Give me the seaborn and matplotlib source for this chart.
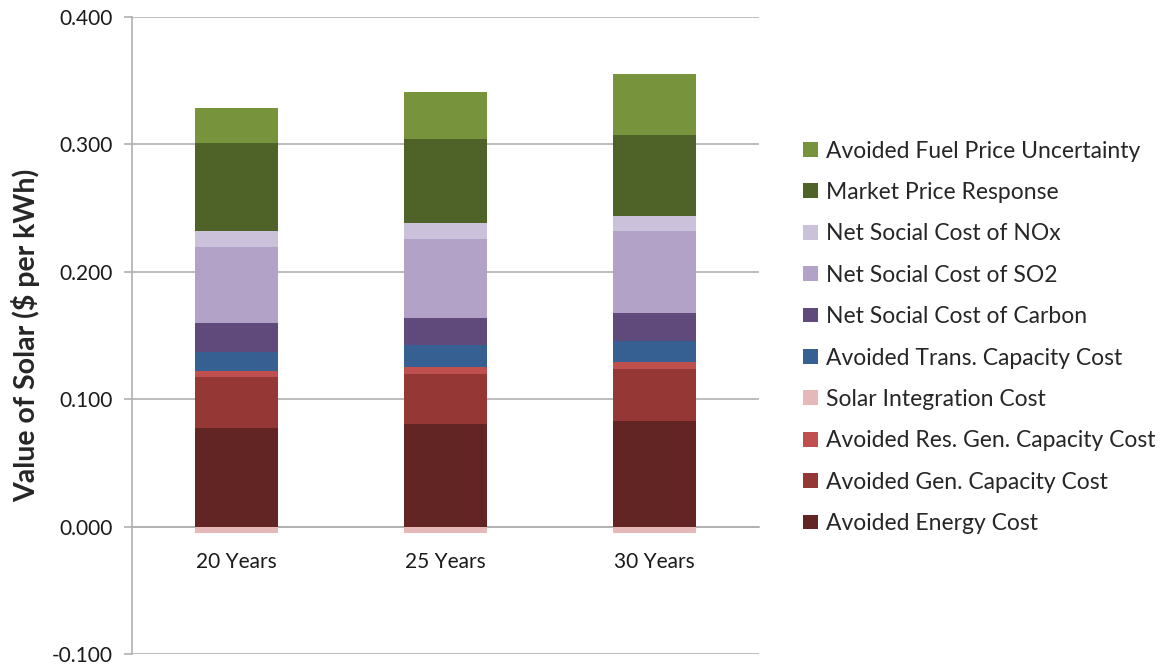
import matplotlib

matplotlib.use("Agg")
import matplotlib.pyplot as plt
import numpy as np
import pandas as pd
import seaborn as sns
from matplotlib.patches import Patch

sns.set_theme(style="white", context="notebook")
plt.rcParams["font.family"] = ["Lato", "DejaVu Sans"]

categories = ["20 Years", "25 Years", "30 Years"]

# series in stacking order (bottom to top); integration cost is negative
series_names = [
    "Avoided Energy Cost",
    "Avoided Gen. Capacity Cost",
    "Avoided Res. Gen. Capacity Cost",
    "Solar Integration Cost",
    "Avoided Trans. Capacity Cost",
    "Net Social Cost of Carbon",
    "Net Social Cost of SO2",
    "Net Social Cost of NOx",
    "Market Price Response",
    "Avoided Fuel Price Uncertainty",
]
energy = [0.0775, 0.0806, 0.0832]
gen_capacity = [0.0400, 0.0395, 0.0408]
res_gen_capacity = [0.0045, 0.0055, 0.0055]
integration = [-0.0047, -0.0050, -0.0050]
trans_capacity = [0.0154, 0.0170, 0.0165]
carbon = [0.0223, 0.0215, 0.0215]
so2 = [0.0596, 0.0615, 0.0644]
nox = [0.0126, 0.0130, 0.0122]
market_response = [0.0690, 0.0657, 0.0636]
fuel_uncertainty = [0.0280, 0.0367, 0.0474]

colors = [
    "#632523", "#953735", "#C0504D", "#E6B9B8", "#376092",
    "#604A7B", "#B3A2C7", "#CCC1DA", "#4F6228", "#77933C",
]

data = pd.DataFrame(
    [energy, gen_capacity, res_gen_capacity, integration, trans_capacity,
     carbon, so2, nox, market_response, fuel_uncertainty],
    index=series_names, columns=categories,
)

fig = plt.figure(figsize=(11.66, 6.66), dpi=100)
ax = fig.add_axes([0.1132, 0.018, 0.5378, 0.9565])

x = np.arange(len(categories))
pos_bottom = np.zeros(len(categories))
neg_bottom = np.zeros(len(categories))
for name, color in zip(series_names, colors):
    values = data.loc[name].to_numpy()
    bottom = np.where(values >= 0, pos_bottom, neg_bottom)
    ax.bar(x, values, width=0.4, bottom=bottom, color=color, edgecolor="none", zorder=3)
    pos_bottom = pos_bottom + np.clip(values, 0, None)
    neg_bottom = neg_bottom + np.clip(values, None, 0)

ax.set_xlim(-0.5, len(categories) - 0.5)
ax.set_ylim(-0.1, 0.4)
yticks = np.arange(-0.1, 0.401, 0.1)
ax.set_yticks(yticks)
ax.set_yticklabels([f"{v:.3f}" for v in yticks], fontsize=15)
ax.yaxis.grid(True, color="#B0B0B0", linewidth=1.2, zorder=0)

# category axis crosses at zero, tick marks between categories
ax.spines["bottom"].set_position(("data", 0))
ax.spines["bottom"].set_color("#B0B0B0")
ax.spines["bottom"].set_linewidth(1.2)
ax.spines["left"].set_color("#B0B0B0")
ax.spines["left"].set_linewidth(1.2)
ax.spines["top"].set_visible(False)
ax.spines["right"].set_visible(False)
ax.set_xticks(x)
ax.set_xticklabels(categories, fontsize=15)
ax.set_xticks(np.arange(0.5, len(categories), 1.0), minor=True)
ax.tick_params(axis="x", which="major", length=0, pad=18)
ax.tick_params(axis="x", which="minor", length=5, color="#B0B0B0", width=1.2, direction="out")
ax.tick_params(axis="y", length=6, color="#B0B0B0", width=1.2, direction="out", left=True, pad=8)
for label in ax.get_xticklabels() + ax.get_yticklabels():
    label.set_color("#1a1a1a")

ax.set_ylabel("Value of Solar ($ per kWh)", fontsize=20.5, fontweight="bold", labelpad=8)

handles = [Patch(facecolor=c, edgecolor="none") for c in colors][::-1]
labels = series_names[::-1]
fig.legend(
    handles, labels,
    loc="upper left", bbox_to_anchor=(0.689, 0.789),
    frameon=False, fontsize=16.5,
    handlelength=0.62, handleheight=0.62, handletextpad=0.35,
    labelspacing=0.89, borderaxespad=0, borderpad=0,
)

fig.savefig("out.png", dpi=100)
plt.close(fig)
